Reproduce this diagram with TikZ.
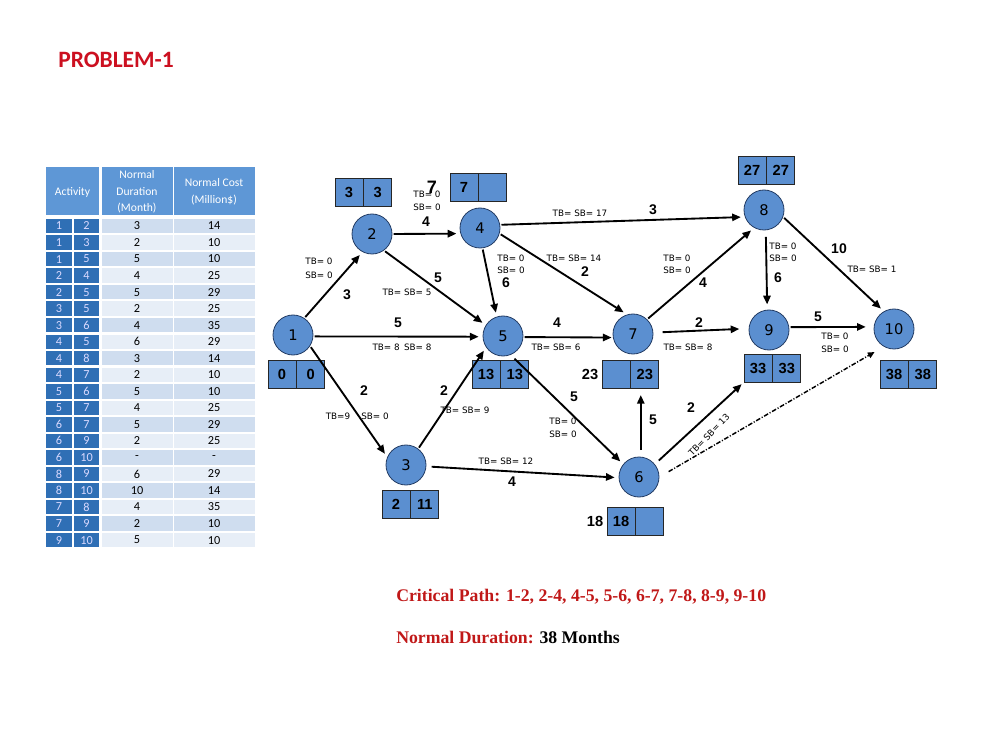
\documentclass[tikz,border=0pt]{standalone}
\usepackage{fontspec}
\usetikzlibrary{arrows.meta}
\newfontfamily\carl{Carlito}
\newfontfamily\dvs{DejaVu Sans}
\newfontfamily\lsans{Liberation Sans}
\newfontfamily\lserif{Liberation Serif}
\definecolor{nodeblue}{RGB}{91,143,208}
\definecolor{navy}{RGB}{35,60,100}
\definecolor{hdr}{RGB}{94,151,214}
\definecolor{dcell}{RGB}{47,111,181}
\definecolor{rowA}{RGB}{207,221,239}
\definecolor{rowB}{RGB}{231,238,247}
\definecolor{titlered}{RGB}{204,16,32}
\definecolor{cpred}{RGB}{192,24,24}
\begin{document}
\begin{tikzpicture}[x=0.75pt,y=-0.75pt,
 circ/.style={circle,draw=navy,line width=0.6pt,fill=nodeblue,minimum size=30pt,inner sep=0pt,font=\dvs\fontsize{11}{13}\selectfont},
 cell/.style={rectangle,draw=black!85,line width=0.6pt,fill=nodeblue,minimum width=21pt,minimum height=21pt,inner sep=0pt,font=\lsans\bfseries\fontsize{11}{13}\selectfont},
 arr/.style={-{Triangle[length=6.5pt,width=5.5pt]},line width=1.4pt,shorten <=1pt,shorten >=3pt},
 dasharr/.style={-{Triangle[length=5pt,width=4.5pt]},line width=1.1pt,dash pattern=on 3.5pt off 1.3pt on 0.8pt off 1.3pt,shorten <=1pt,shorten >=3pt},
 sm/.style={font=\dvs\fontsize{6.6}{7.5}\selectfont,inner sep=0pt},
 wt/.style={font=\lsans\bfseries\fontsize{10.5}{12}\selectfont,inner sep=0pt},
 tb/.style={font=\carl\fontsize{9.2}{11}\selectfont,inner sep=0pt},
 th/.style={font=\carl\fontsize{8.7}{12.4}\selectfont,text=white,align=center,inner sep=0pt},
 outn/.style={font=\lsans\bfseries\fontsize{11}{13}\selectfont,inner sep=0pt},
]
\useasboundingbox (0,0) rectangle (1008,756);

% title
\node[anchor=west,font=\carl\bfseries\fontsize{17.6}{20}\selectfont,text=titlered,inner sep=0pt] (title) at (58,60) {PROBLEM-1};

% table header
\fill[hdr] (46,167) rectangle (99,215);
\fill[hdr] (101.5,167) rectangle (172.5,215);
\fill[hdr] (174,167) rectangle (254.5,215);
\node[th] (hA) at (72.5,192) {Activity};
\node[th] (hD) at (137,192) {Normal\\Duration\\(Month)};
\node[th] (hC) at (214,192) {Normal Cost\\(Million\$)};

\foreach [count=\i] \a/\b/\d/\c in {1/2/3/14,1/3/2/10,1/5/5/10,2/4/4/25,2/5/5/29,3/5/2/25,3/6/4/35,4/5/6/29,4/8/3/14,4/7/2/10,5/6/5/10,5/7/4/25,6/7/5/29,6/9/2/25,6/10/-/-,8/9/6/29,8/10/10/14,7/8/4/35,7/9/2/10,9/10/5/10}{
  \pgfmathsetmacro\yy{226+(\i-1)*16.53}
  \ifodd\i\def\rc{rowA}\else\def\rc{rowB}\fi
  \fill[dcell] (46,\yy-7.2) rectangle (72,\yy+7.2);
  \fill[dcell] (74,\yy-7.2) rectangle (99,\yy+7.2);
  \fill[\rc] (101.5,\yy-7.2) rectangle (172.5,\yy+7.2);
  \fill[\rc] (174,\yy-7.2) rectangle (254.5,\yy+7.2);
  \node[tb,text=white!85!blue] (ta\i) at (59,\yy) {\a};
  \node[tb,text=white!85!blue] (tb\i) at (86.5,\yy) {\b};
  \node[tb] (td\i) at (137,\yy) {\d};
  \node[tb] (tc\i) at (214,\yy) {\c};
}

% event nodes
\node[circ] (n1) at (293,335) {1};
\node[circ] (n2) at (372,234) {2};
\node[circ] (n3) at (406,465) {3};
\node[circ] (n4) at (480,228) {4};
\node[circ] (n5) at (503,336) {5};
\node[circ] (n6) at (639,477) {6};
\node[circ] (n7) at (633,334) {7};
\node[circ] (n8) at (764,210) {8};
\node[circ] (n9) at (769,330) {9};
\node[circ] (n10) at (894,329) {10};

% time boxes
\node[cell] (b1a) at (282,374) {0};
\node[cell,anchor=west] (b1b) at (b1a.east) {0};
\node[cell] (b2a) at (349,192) {3};
\node[cell,anchor=west] (b2b) at (b2a.east) {3};
\node[cell] (b3a) at (396,504.5) {2};
\node[cell,anchor=west] (b3b) at (b3a.east) {11};
\node[cell] (b4a) at (464,187.5) {7};
\node[cell,anchor=west] (b4b) at (b4a.east) {};
\node[cell] (b5a) at (486,374) {13};
\node[cell,anchor=west] (b5b) at (b5a.east) {13};
\node[cell] (b6a) at (621,521) {18};
\node[cell,anchor=west] (b6b) at (b6a.east) {};
\node[cell] (b7a) at (616,374) {};
\node[cell,anchor=west] (b7b) at (b7a.east) {23};
\node[cell] (b8a) at (752,170) {27};
\node[cell,anchor=west] (b8b) at (b8a.east) {27};
\node[cell] (b9a) at (758,368) {33};
\node[cell,anchor=west] (b9b) at (b9a.east) {33};
\node[cell] (b10a) at (894,374) {38};
\node[cell,anchor=west] (b10b) at (b10a.east) {38};
\node[outn] (o7) at (590,374) {23};
\node[outn] (o6) at (595,521) {18};

% activities
\draw[arr] (n1.56) -- (n2.242);
\draw[arr] (n2.east) -- (n4.196);
\draw[arr] (n2.306) -- (n5.148);
\draw[arr] (n1.-4) -- (n5.182);
\draw[arr] (n4.277) -- (n5.108);
\draw[arr] (n4.9) -- (n8.200);
\draw[arr] (n4.344) -- (n7.107);
\draw[arr,shorten >=1pt] (n5.-3) -- (n7.190);
\draw[arr] (n7.46) -- (n8.241);
\draw[arr,shorten <=7pt,shorten >=7pt] (n7.4) -- (n9.176);
\draw[arr,shorten <=5pt,shorten >=4pt] (n8.275) -- (n9.95);
\draw[arr] (n8.340) -- (n10.120);
\draw[arr,shorten >=6pt] (n9.8) -- (n10.174);
\draw[arr] (n1.327) -- (n3.157);
\draw[arr] (n3.53) -- (n5.214);
\draw[arr,shorten <=4pt] (n3.-4) -- (n6.182);
\draw[arr,shorten <=4pt] (n5.292) -- (n6.141);
\draw[arr,shorten <=5pt,shorten >=5pt] (n6.85) -- (b7b.south -| n6.85);
\draw[arr,shorten <=4pt,shorten >=2pt] (n6.39) -- (b9a.south west);
\draw[dasharr,shorten <=8pt,shorten >=8pt] (n6.east) -- (n10.240);

% labels
\node[sm] (l12a) at (319,261) {TB= 0};
\node[sm] (l12b) at (319,275) {SB= 0};
\node[wt] (l12w) at (347,295) {3};

\node[sm] (l24a) at (427,194) {TB= 0};
\node[sm] (l24b) at (427,207) {SB= 0};
\node[font=\lsans\bfseries\fontsize{13.5}{15}\selectfont,inner sep=0pt] (l24e) at (432,187) {7};
\node[wt] (l24w) at (426,222) {4};

\node[wt] (l25w) at (438,278) {5};
\node[sm] (l25a) at (407,292) {TB= SB= 5};

\node[wt] (l15w) at (398,323) {5};
\node[sm] (l15a) at (402,347) {TB= 8\enspace SB= 8};

\node[sm] (l45a) at (511,258) {TB= 0};
\node[sm] (l45b) at (511,270) {SB= 0};
\node[wt] (l45w) at (506,283) {6};

\node[sm] (l48a) at (580,213) {TB= SB= 17};
\node[wt] (l48w) at (653,210) {3};

\node[sm] (l47a) at (574,258) {TB= SB= 14};
\node[wt] (l47w) at (585,272) {2};

\node[sm] (l78a) at (677,258) {TB= 0};
\node[sm] (l78b) at (677,270) {SB= 0};
\node[wt] (l78w) at (703,283) {4};

\node[wt] (l57w) at (557,323) {4};
\node[sm] (l57a) at (556,347) {TB= SB= 6};

\node[wt] (l79w) at (699,323) {2};
\node[sm] (l79a) at (688,347) {TB= SB= 8};

\node[sm] (l89a) at (783,246) {TB= 0};
\node[sm] (l89b) at (783,258) {SB= 0};
\node[wt] (l89w) at (778,278) {6};

\node[wt] (l810w) at (839,249) {10};
\node[sm] (l810a) at (872,269) {TB= SB= 1};

\node[wt] (l910w) at (818,317) {5};
\node[sm] (l910a) at (835,336) {TB= 0};
\node[sm] (l910b) at (835,349) {SB= 0};

\node[wt] (l13w) at (364,391) {2};
\node[sm] (l13a) at (338,416) {TB=9};
\node[sm] (l13b) at (375,416) {SB= 0};

\node[wt] (l35w) at (444,391) {2};
\node[sm] (l35a) at (465,410) {TB= SB= 9};

\node[sm] (l36a) at (506,461) {TB= SB= 12};
\node[wt] (l36w) at (512,482) {4};

\node[wt] (l56w) at (574,397) {5};
\node[sm] (l56a) at (563,421) {TB= 0};
\node[sm] (l56b) at (563,434) {SB= 0};

\node[wt] (l67w) at (653,420) {5};

\node[wt] (l69w) at (691,408) {2};
\node[sm,rotate=46] (l69a) at (709,435) {TB= SB= 13};

% summary
\node[anchor=west,font=\lserif\bfseries\fontsize{13.3}{15}\selectfont,text=cpred,inner sep=0pt] (cp) at (396,597) {Critical Path: 1-2, 2-4, 4-5, 5-6, 6-7, 7-8, 8-9, 9-10};
\node[anchor=west,font=\lserif\bfseries\fontsize{13.3}{15}\selectfont,inner sep=0pt] (nd) at (396,637) {\textcolor{cpred}{Normal Duration:} 38 Months};
\end{tikzpicture}
\end{document}
